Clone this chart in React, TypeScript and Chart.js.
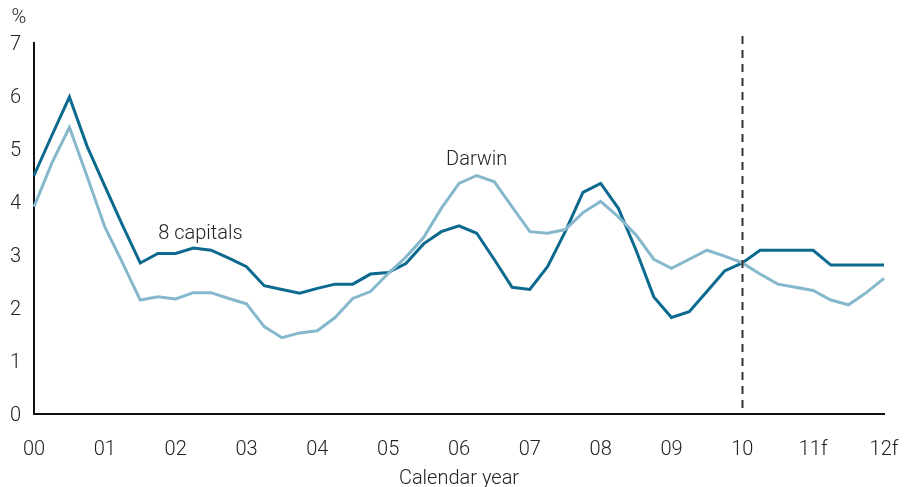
import React, { useEffect, useRef } from "react";
import { Chart, registerables } from "chart.js";

Chart.register(...registerables);

const yearLabels = ["00", "01", "02", "03", "04", "05", "06", "07", "08", "09", "10", "11f", "12f"];
const quartersPerYear = 4;

// Quarterly values, 00 to 12f
const capitals8 = [
  4.5, 5.25, 5.98, 5.05, 4.3, 3.56, 2.85, 3.03, 3.03, 3.13, 3.09, 2.94, 2.78, 2.42, 2.35, 2.28,
  2.37, 2.45, 2.45, 2.64, 2.67, 2.84, 3.21, 3.44, 3.55, 3.41, 2.91, 2.39, 2.35, 2.78, 3.44, 4.18,
  4.35, 3.88, 3.09, 2.21, 1.82, 1.93, 2.31, 2.7, 2.85, 3.09, 3.09, 3.09, 3.09, 2.81, 2.81, 2.81, 2.81,
];
const darwin = [
  3.91, 4.73, 5.41, 4.48, 3.53, 2.85, 2.15, 2.21, 2.17, 2.29, 2.29, 2.18, 2.08, 1.65, 1.44, 1.53,
  1.57, 1.82, 2.18, 2.31, 2.65, 2.96, 3.33, 3.88, 4.35, 4.5, 4.38, 3.91, 3.44, 3.41, 3.48, 3.8,
  4.01, 3.72, 3.38, 2.92, 2.75, 2.92, 3.09, 2.98, 2.85, 2.64, 2.45, 2.39, 2.33, 2.15, 2.06, 2.29, 2.56,
];

const forecastStartIndex = 40; // "10"
const annotations = [
  { text: "8 capitals", x: 9.4, y: 3.4 },
  { text: "Darwin", x: 25.0, y: 4.79 },
];

const DARK = "#0d6a8f";
const LIGHT = "#86b8cd";
const TEXT = "#222222";
const FONT = "Roboto";
const FONT_SIZE = 20;

const quarterLabels = capitals8.map((_, i) =>
  i % quartersPerYear === 0 ? yearLabels[i / quartersPerYear] : `${yearLabels[Math.floor(i / quartersPerYear)]} Q${(i % quartersPerYear) + 1}`
);

const overlayPlugin = {
  id: "overlay",
  afterDatasetsDraw(chart: any) {
    const { ctx, chartArea, scales } = chart;
    const xs = scales.x;
    const ys = scales.y;
    ctx.save();
    // dashed forecast line
    const fx = Math.round(xs.getPixelForValue(forecastStartIndex)) + 0.5;
    ctx.strokeStyle = "#333333";
    ctx.lineWidth = 2;
    ctx.setLineDash([8, 6]);
    ctx.beginPath();
    ctx.moveTo(fx, chartArea.top - 7);
    ctx.lineTo(fx, chartArea.bottom);
    ctx.stroke();
    ctx.setLineDash([]);
    // annotations
    ctx.fillStyle = TEXT;
    ctx.font = `300 ${FONT_SIZE}px ${FONT}`;
    ctx.textAlign = "center";
    ctx.textBaseline = "middle";
    for (const a of annotations) {
      ctx.fillText(a.text, xs.getPixelForValue(a.x), ys.getPixelForValue(a.y));
    }
    // unit
    ctx.fillText("%", chartArea.left - 15, chartArea.top - 25);
    ctx.restore();
  },
};

export default function App() {
  const ref = useRef<HTMLCanvasElement>(null);
  useEffect(() => {
    if (!ref.current) return;
    const font = { family: FONT, size: FONT_SIZE, weight: "300" as any };
    const chart = new Chart(ref.current, {
      type: "line",
      data: {
        labels: quarterLabels,
        datasets: [
          {
            label: "Darwin",
            data: darwin,
            borderColor: LIGHT,
            borderWidth: 3,
            pointRadius: 0,
            tension: 0,
          },
          {
            label: "8 capitals",
            data: capitals8,
            borderColor: DARK,
            borderWidth: 3,
            pointRadius: 0,
            tension: 0,
          },
        ],
      },
      options: {
        animation: false,
        responsive: true,
        maintainAspectRatio: false,
        layout: { padding: { left: 0, top: 43, right: 30, bottom: 0 } },
        plugins: { legend: { display: false }, tooltip: { enabled: false } },
        scales: {
          x: {
            type: "category",
            offset: false,
            grid: { display: false, drawTicks: false },
            border: { display: true, color: "#111111", width: 2 },
            ticks: {
              autoSkip: false,
              maxRotation: 0,
              padding: 24,
              color: TEXT,
              font,
              callback: (_v: any, i: number) =>
                i % quartersPerYear === 0 ? yearLabels[i / quartersPerYear] : "",
            },
            title: {
              display: true,
              text: "Calendar year",
              color: TEXT,
              font,
              padding: { top: 0, bottom: -4 },
            },
            afterFit: (s: any) => {
              s.height = 73;
              s.paddingLeft = 0;
              s.paddingRight = 0;
            },
          },
          y: {
            min: 0,
            max: 7,
            grid: { display: false, drawTicks: false },
            border: { display: true, color: "#111111", width: 2 },
            ticks: {
              stepSize: 1,
              padding: 13,
              labelOffset: 2,
              color: TEXT,
              font,
            },
            afterFit: (s: any) => {
              s.width = 34;
              s.paddingTop = 0;
              s.paddingBottom = 0;
            },
          },
        },
      },
      plugins: [overlayPlugin],
    });
    return () => chart.destroy();
  }, []);
  return (
    <div style={{ position: "fixed", left: 0, top: 0, width: 914, height: 487 }}>
      <canvas ref={ref} />
    </div>
  );
}
